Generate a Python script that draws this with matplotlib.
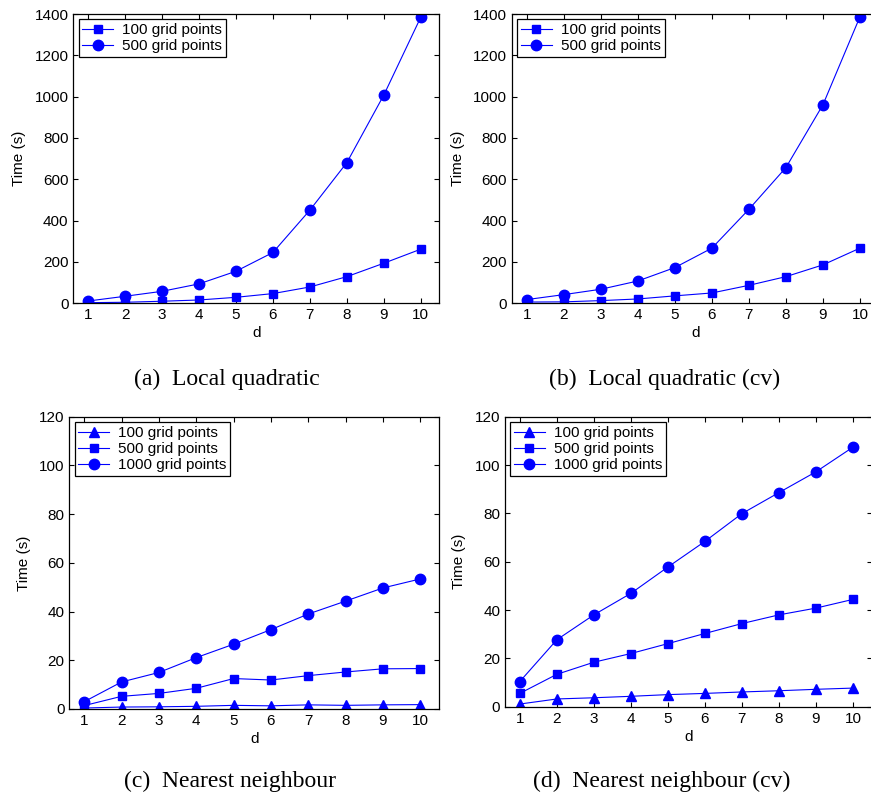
import matplotlib
matplotlib.use("Agg")
import matplotlib.pyplot as plt

# Dimension d on the x-axis
d = [1, 2, 3, 4, 5, 6, 7, 8, 9, 10]

# (a) Local quadratic
lq_100 = [3, 5, 10, 16, 29, 47, 79, 129, 194, 262]
lq_500 = [11, 34, 58, 94, 155, 246, 451, 681, 1008, 1385]

# (b) Local quadratic (cv)
lqcv_100 = [6, 7, 13, 21, 36, 50, 87, 129, 186, 267]
lqcv_500 = [18, 42, 68, 108, 173, 267, 455, 657, 961, 1387]

# (c) Nearest neighbour
nn_100 = [0.4, 0.8, 0.9, 1.1, 1.5, 1.3, 1.7, 1.5, 1.7, 1.8]
nn_500 = [1.4, 5.2, 6.4, 8.5, 12.5, 11.9, 13.7, 15.2, 16.5, 16.6]
nn_1000 = [3.0, 11.1, 15.0, 21.1, 26.6, 32.6, 39.0, 44.3, 49.7, 53.4]

# (d) Nearest neighbour (cv)
nncv_100 = [1.1, 3.2, 3.7, 4.3, 5.0, 5.5, 6.1, 6.6, 7.2, 7.7]
nncv_500 = [5.5, 13.4, 18.4, 22.0, 26.1, 30.3, 34.4, 38.0, 40.8, 44.4]
nncv_1000 = [10.4, 27.7, 38.0, 46.9, 57.8, 68.4, 79.9, 88.6, 97.2, 107.4]

captions = ["(a)  Local quadratic", "(b)  Local quadratic (cv)",
            "(c)  Nearest neighbour", "(d)  Nearest neighbour (cv)"]

SANS = ["Liberation Sans", "DejaVu Sans"]
SERIF = ["Liberation Serif", "DejaVu Serif"]
BLUE = "#0000ff"
FS = 11

plt.rcParams["font.family"] = SANS

W, H = 871, 798
fig = plt.figure(figsize=(W / 100, H / 100), dpi=100)


def px_axes(left, top, right, bottom):
    return fig.add_axes([left / W, 1 - bottom / H, (right - left) / W, (bottom - top) / H])


def style(ax, ymax, ystep):
    ax.set_xlim(0.6, 10.5)
    ax.set_ylim(0, ymax)
    ax.set_xticks(d)
    ax.set_yticks(range(0, ymax + 1, ystep))
    ax.tick_params(direction="in", length=3.5, width=0.8, labelsize=FS,
                   top=True, right=True, pad=3.5)
    for s in ax.spines.values():
        s.set_linewidth(0.9)
    ax.set_xlabel("d", fontsize=FS, labelpad=3)
    ax.set_ylabel("Time (s)", fontsize=FS, labelpad=6)


def legend(ax):
    leg = ax.legend(loc="upper left", fancybox=False, edgecolor="black",
                    fontsize=FS, labelspacing=0.15, handlelength=2.0,
                    handletextpad=0.6, borderpad=0.25, borderaxespad=0.35,
                    framealpha=1)
    leg.get_frame().set_linewidth(0.9)


line_kw = dict(color=BLUE, lw=0.8)

# Top row
ax_a = px_axes(73.3, 14, 439.3, 303.3)
ax_a.plot(d, lq_100, marker="s", ms=6, label="100 grid points", **line_kw)
ax_a.plot(d, lq_500, marker="o", ms=7.5, label="500 grid points", **line_kw)
style(ax_a, 1400, 200)
legend(ax_a)

ax_b = px_axes(512, 14, 878.5, 303.3)
ax_b.plot(d, lqcv_100, marker="s", ms=6, label="100 grid points", **line_kw)
ax_b.plot(d, lqcv_500, marker="o", ms=7.5, label="500 grid points", **line_kw)
style(ax_b, 1400, 200)
legend(ax_b)

# Bottom row
ax_c = px_axes(69.3, 416.7, 439, 709)
ax_c.plot(d, nn_100, marker="^", ms=7.5, label="100 grid points", **line_kw)
ax_c.plot(d, nn_500, marker="s", ms=6, label="500 grid points", **line_kw)
ax_c.plot(d, nn_1000, marker="o", ms=7.5, label="1000 grid points", **line_kw)
style(ax_c, 120, 20)
legend(ax_c)

ax_d = px_axes(505, 416.7, 871.5, 706.7)
ax_d.plot(d, nncv_100, marker="^", ms=7.5, label="100 grid points", **line_kw)
ax_d.plot(d, nncv_500, marker="s", ms=6, label="500 grid points", **line_kw)
ax_d.plot(d, nncv_1000, marker="o", ms=7.5, label="1000 grid points", **line_kw)
style(ax_d, 120, 20)
legend(ax_d)

# Sub-figure captions
cap_pos = [(227, 379), (665, 379), (229.5, 781), (662, 781)]
for text, (cx, cy) in zip(captions, cap_pos):
    fig.text(cx / W, 1 - cy / H, text, ha="center", va="center",
             fontsize=17, family=SERIF)

fig.savefig("out.png", dpi=100)
